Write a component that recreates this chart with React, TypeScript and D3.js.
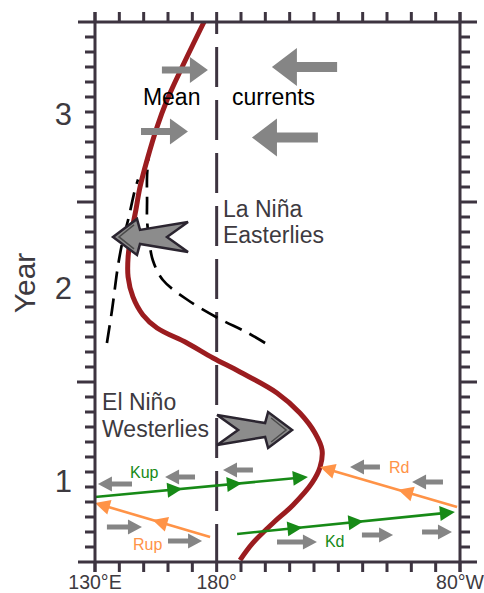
import React from 'react';
import * as d3 from 'd3';

const W = 484;
const H = 593;

// Axis content
const lonTicks = d3.range(130, 281, 10);
const lonLabels: [number, string][] = [[130, '130°E'], [180, '180°'], [280, '80°W']];
const monthTicks = d3.range(0, 37);
const yearLabels: [string, number][] = [['1', 5.4], ['2', 18.3], ['3', 29.9]];

// Warm-pool edge (red curve): [longitude °E, month]
const redCurve: [number, number][] = [
  [174.8, 36], [166.2, 33.13], [159.6, 30.8], [155.5, 29.0], [151.4, 26.8], [148.5, 25.0],
  [146.8, 23.47], [144.8, 21.8], [143.6, 20.33], [143.6, 19.0], [145.6, 17.67], [149.7, 16.47],
  [155.5, 15.6], [167.8, 14.6], [178.5, 13.6], [189.6, 12.67], [204.8, 11.27], [214.2, 9.93],
  [220.4, 8.6], [223.3, 7.47], [222.5, 6.33], [219.2, 5.27], [211.4, 3.8], [203.2, 2.6],
  [194.9, 1.27], [189.6, 0.13],
];

// Dashed envelopes
const dashLeft: [number, number][] = [
  [134.9, 14.6], [137.0, 16.8], [139.5, 19.8], [141.5, 21.5], [143.6, 22.8], [146.4, 24.8], [147.7, 25.5],
];
const dashRight: [number, number][] = [
  [199.9, 14.6], [192.5, 15.3], [180.1, 16.3], [167.8, 17.5], [157.9, 18.8], [153.8, 20.1],
  [152.2, 21.5], [151.4, 22.8], [151.4, 24.1], [151.4, 25.8], [152.2, 27.3],
];

// Mean current arrows: [tail lon, tip lon, month]
const meanEastward: [number, number, number][] = [[157.5, 176.4, 32.8], [148.9, 168.2, 28.7]];
const meanWestward: [number, number, number][] = [[229.5, 202.7, 33.0], [221.6, 194.5, 28.3]];

// Small current arrows: [tail lon, tip lon, month]
const smallWestward: [number, number, number][] = [
  [145.2, 131.2, 5.2], [171.1, 158.8, 5.67], [194.9, 182.6, 6.13], [247.1, 234.8, 6.33], [273.0, 260.3, 5.33],
];
const smallEastward: [number, number, number][] = [
  [134.9, 149.3, 2.33], [160.0, 174.0, 1.4], [204.8, 221.2, 1.33], [239.7, 252.5, 1.8], [264.4, 276.7, 2.0],
];

// Wind arrows: [tip lon, month, direction]
const windArrows: [number, number, number][] = [[137.4, 21.67, -1], [211.0, 8.8, 1]];

// Wave paths: [name, fromLon, fromMonth, toLon, toMonth]
const waveNames = ['Kup', 'Kd', 'Rup', 'Rd'];
const waveFrom: [number, number][] = [[130, 4.33], [188.4, 1.87], [177.3, 1.67], [278.8, 3.67]];
const waveTo: [number, number][] = [[217.5, 5.67], [277.9, 3.33], [130, 3.93], [222.5, 6.33]];
const waveMarks: number[][] = [[0.41, 0.69, 1], [0.3, 0.58, 1], [0.5, 1], [0.43, 1]];
const waveLabels: [string, number, number][] = [
  ['Kup', 144.4, 5.6], ['Kd', 224.5, 1.0], ['Rup', 145.6, 0.8], ['Rd', 250.8, 5.93],
];

// Annotations: [text, lon, month]
const bigLabels: [string, number, number, string][] = [
  ['Mean', 149.7, 30.47, '#000'], ['currents', 186.3, 30.47, '#000'],
  ['La Niña', 182.6, 23.0, '#3d3a40'], ['Easterlies', 182.6, 21.27, '#3d3a40'],
  ['El Niño', 132.9, 10.13, '#3d3a40'], ['Westerlies', 132.9, 8.33, '#3d3a40'],
];

const FONT = '"Liberation Sans", Arial, Helvetica, sans-serif';
const AXIS = '#3d3440';
const TEXT = '#3d3a40';
const GRAY = '#858585';
const RED = '#9b1c1f';
const GREEN = '#178a17';
const ORANGE = '#ff9347';

const x = d3.scaleLinear().domain([130, 280]).range([95, 460]);
const y = d3.scaleLinear().domain([0, 36]).range([562, 22]);

function arrowPoly(x0: number, x1: number, yy: number, headLen: number, headHalf: number, shaftHalf: number) {
  const dir = Math.sign(x1 - x0);
  const xb = x1 - dir * headLen;
  const pts = [
    [x0, yy - shaftHalf], [xb, yy - shaftHalf], [xb, yy - headHalf], [x1, yy],
    [xb, yy + headHalf], [xb, yy + shaftHalf], [x0, yy + shaftHalf],
  ];
  return pts.map((p) => p.join(',')).join(' ');
}

const windOutline: [number, number][] = [
  [-75, -15], [-27, -7], [-24, -18], [0, 0], [-24, 18], [-27, 7], [-75, 15], [-54, 0],
];
const windInner: [number, number][] = [[-21, -12], [-6, 0], [-21, 12]];

export default function App() {
  const line = d3.line<[number, number]>().x((d) => x(d[0])).y((d) => y(d[1])).curve(d3.curveCatmullRom.alpha(0.5));
  const waveColors = [GREEN, GREEN, ORANGE, ORANGE];

  return (
    <svg width={W} height={H} style={{ position: 'absolute', left: 0, top: 0, background: '#fff' }} fontFamily={FONT}>
      <rect width={W} height={H} fill="#fff" />

      {/* 180° dashed line */}
      <line x1={x(180)} x2={x(180)} y1={y(36)} y2={y(0)} stroke={AXIS} strokeWidth={3} strokeDasharray="40 13" strokeDashoffset={28} />

      {/* dashed envelopes */}
      <path d={line(dashLeft) || ''} fill="none" stroke="#000" strokeWidth={2.7} strokeDasharray="18 9" />
      <path d={line(dashRight) || ''} fill="none" stroke="#000" strokeWidth={2.7} strokeDasharray="18 9" />

      {/* red curve */}
      <path d={line(redCurve) || ''} fill="none" stroke={RED} strokeWidth={5} strokeLinecap="butt" />

      {/* mean current arrows */}
      {meanEastward.map((a, i) => (
        <polygon key={'me' + i} points={arrowPoly(x(a[0]), x(a[1]), y(a[2]), 18, 13, 3.5)} fill={GRAY} />
      ))}
      {meanWestward.map((a, i) => (
        <polygon key={'mw' + i} points={arrowPoly(x(a[0]), x(a[1]), y(a[2]), 25, 19, 5)} fill={GRAY} />
      ))}

      {/* small current arrows */}
      {[...smallWestward, ...smallEastward].map((a, i) => (
        <polygon key={'s' + i} points={arrowPoly(x(a[0]), x(a[1]), y(a[2]), 14, 7.5, 2.5)} fill={GRAY} />
      ))}

      {/* waves */}
      {waveNames.map((n, i) => {
        const x0 = x(waveFrom[i][0]), y0 = y(waveFrom[i][1]);
        const x1 = x(waveTo[i][0]), y1 = y(waveTo[i][1]);
        const len = Math.hypot(x1 - x0, y1 - y0);
        const ux = (x1 - x0) / len, uy = (y1 - y0) / len;
        return (
          <g key={n}>
            <line x1={x0} y1={y0} x2={x1 - ux * 6} y2={y1 - uy * 6} stroke={waveColors[i]} strokeWidth={2.6} />
            {waveMarks[i].map((f, j) => {
              const px = x0 + (x1 - x0) * f, py = y0 + (y1 - y0) * f;
              const bx = px - ux * 15, by = py - uy * 15;
              const pts = [[px, py], [bx - uy * 7.5, by + ux * 7.5], [bx + uy * 7.5, by - ux * 7.5]];
              return <polygon key={j} points={pts.map((p) => p.join(',')).join(' ')} fill={waveColors[i]} />;
            })}
          </g>
        );
      })}
      {waveLabels.map((l, i) => (
        <text key={l[0]} x={x(l[1])} y={y(l[2])} fontSize={16} fill={i < 2 ? GREEN : ORANGE}>{l[0]}</text>
      ))}

      {/* wind arrows */}
      {windArrows.map((a, i) => {
        const tx = x(a[0]), ty = y(a[1]), d = a[2];
        const outline = windOutline.map((p) => [tx + d * p[0], ty + p[1]].join(',')).join(' ');
        const inner = windInner.map((p) => [tx + d * p[0], ty + p[1]].join(',')).join(' ');
        return (
          <g key={'w' + i}>
            <polygon points={outline} fill="#8c8c8c" stroke="#2b2530" strokeWidth={2.5} strokeLinejoin="miter" />
            <polyline points={inner} fill="none" stroke="#4a4a4a" strokeWidth={1.5} />
          </g>
        );
      })}

      {/* annotations */}
      {bigLabels.map((l) => (
        <text key={l[0]} x={x(l[1])} y={y(l[2])} fontSize={23} fill={l[3]}>{l[0]}</text>
      ))}

      {/* frame */}
      <g stroke={AXIS} strokeWidth={3}>
        <line x1={78} x2={477} y1={y(36)} y2={y(36)} />
        <line x1={78} x2={477} y1={y(0)} y2={y(0)} />
        <line x1={x(130)} x2={x(130)} y1={12} y2={572} />
        <line x1={x(280)} x2={x(280)} y1={12} y2={572} />
        {lonTicks.map((t) => (
          <g key={'lt' + t}>
            <line x1={x(t)} x2={x(t)} y1={y(36)} y2={y(36) - 10} />
            <line x1={x(t)} x2={x(t)} y1={y(0)} y2={y(0) + 10} />
          </g>
        ))}
        {monthTicks.filter((m) => m > 0 && m < 36).map((m) => (
          <g key={'mt' + m}>
            <line x1={x(130)} x2={x(130) - (m % 12 === 0 ? 18 : 10)} y1={y(m)} y2={y(m)} />
            <line x1={x(280)} x2={x(280) + (m % 12 === 0 ? 17 : 10)} y1={y(m)} y2={y(m)} />
          </g>
        ))}
      </g>

      {/* axis labels */}
      {lonLabels.map((l) => (
        <text key={l[1]} x={x(l[0])} y={589} fontSize={19.5} textAnchor="middle" fill={TEXT}>{l[1]}</text>
      ))}
      {yearLabels.map((l) => (
        <text key={l[0]} x={72} y={y(l[1]) + 11} fontSize={31} textAnchor="end" fill={TEXT}>{l[0]}</text>
      ))}
      <text transform={`translate(35,${283}) rotate(-90)`} fontSize={30} textAnchor="middle" fill={TEXT}>Year</text>
    </svg>
  );
}
